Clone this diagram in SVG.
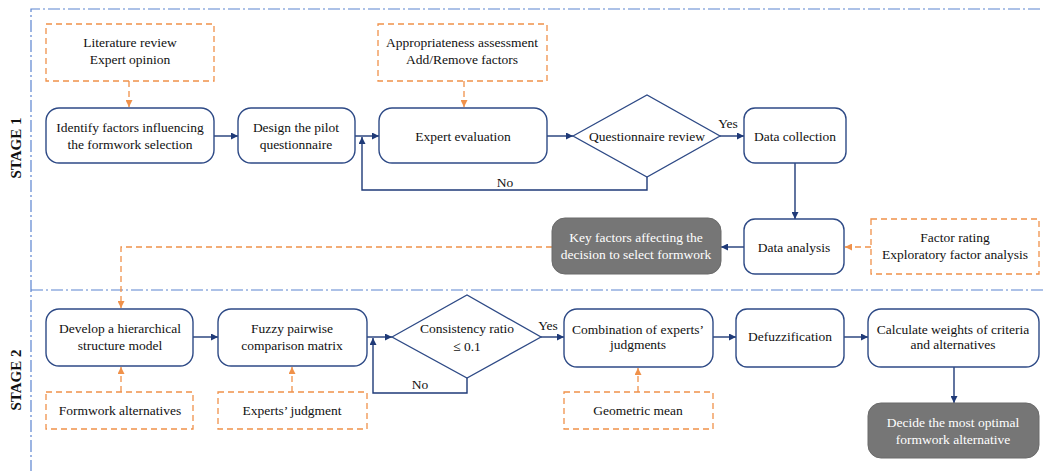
<svg xmlns="http://www.w3.org/2000/svg" width="1044" height="471" viewBox="0 0 1044 471">
<defs>
<marker id="an" viewBox="0 0 10 10" refX="10" refY="5" markerWidth="7" markerHeight="7" markerUnits="userSpaceOnUse" orient="auto"><path d="M0,0 L10,5 L0,10 z" fill="#1f3a78"/></marker>
<marker id="ao" viewBox="0 0 10 10" refX="10" refY="5" markerWidth="7" markerHeight="7" markerUnits="userSpaceOnUse" orient="auto"><path d="M0,0 L10,5 L0,10 z" fill="#f0914a"/></marker>
</defs>
<style>
text{font-family:"Liberation Serif","Times New Roman",serif;font-size:13.5px;fill:#111;text-anchor:middle}
.box{fill:#fff;stroke:#2e4a86;stroke-width:1.4}
.gray{fill:#767676;stroke:#6a6a6a;stroke-width:1}
text.w{fill:#fff}
.dash{fill:#fff;stroke:#f0914a;stroke-width:1.3;stroke-dasharray:6 4}
.dia{fill:#fff;stroke:#2e4a86;stroke-width:1.3}
.c{fill:none;stroke:#1f3a78;stroke-width:1.4}
.co{fill:none;stroke:#f0914a;stroke-width:1.3;stroke-dasharray:6 4}
.frame{fill:none;stroke:#5b84d0;stroke-width:1.2;stroke-dasharray:12 3 2 3}
.stage{font-weight:bold;font-size:15px}
</style>
<g id="frame">
<path class="frame" d="M1040,9 H31 V471"/>
<path class="frame" d="M31,290 H1044"/>
<text class="stage" transform="translate(21,148) rotate(-90)">STAGE 1</text>
<text class="stage" transform="translate(21,380) rotate(-90)">STAGE 2</text>
</g>
<g id="connectors">
<path class="co" d="M129,81 V107" marker-end="url(#ao)"/>
<path class="co" d="M464,81 V107" marker-end="url(#ao)"/>
<path class="co" d="M871,247 H845" marker-end="url(#ao)"/>
<path class="co" d="M552,247 H121 V308" marker-end="url(#ao)"/>
<path class="co" d="M121,392 V367" marker-end="url(#ao)"/>
<path class="co" d="M292,392 V367" marker-end="url(#ao)"/>
<path class="co" d="M638,392 V368" marker-end="url(#ao)"/>
<path class="c" d="M214,136 H238" marker-end="url(#an)"/>
<path class="c" d="M355,136 H379" marker-end="url(#an)"/>
<path class="c" d="M547,136 H573" marker-end="url(#an)"/>
<path class="c" d="M720,136 H744" marker-end="url(#an)"/>
<path class="c" d="M647,177 V190 H362 V137" marker-end="url(#an)"/>
<path class="c" d="M795,163 V219" marker-end="url(#an)"/>
<path class="c" d="M744,247 H721" marker-end="url(#an)"/>
<path class="c" d="M193,337 H218" marker-end="url(#an)"/>
<path class="c" d="M367,337 H392" marker-end="url(#an)"/>
<path class="c" d="M467,378 V393 H373 V338" marker-end="url(#an)"/>
<path class="c" d="M541,337 H564" marker-end="url(#an)"/>
<path class="c" d="M713,337 H736" marker-end="url(#an)"/>
<path class="c" d="M844,337 H868" marker-end="url(#an)"/>
<path class="c" d="M954,367 V403" marker-end="url(#an)"/>
<text x="728" y="128">Yes</text>
<text x="505" y="187">No</text>
<text x="548" y="330">Yes</text>
<text x="420" y="389">No</text>
</g>
<g id="lit"><rect class="dash" x="46" y="24" width="168" height="57"/><text x="130" y="47">Literature review</text><text x="130" y="64">Expert opinion</text></g>
<g id="identify"><rect class="box" x="46" y="108" width="168" height="55" rx="13"/><text x="130" y="132">Identify factors influencing</text><text x="130" y="149">the formwork selection</text></g>
<g id="design"><rect class="box" x="238" y="108" width="117" height="55" rx="13"/><text x="296" y="132">Design the pilot</text><text x="296" y="149">questionnaire</text></g>
<g id="approp"><rect class="dash" x="378" y="24" width="169" height="57"/><text x="462" y="47">Appropriateness assessment</text><text x="462" y="64">Add/Remove factors</text></g>
<g id="expert"><rect class="box" x="379" y="108" width="168" height="55" rx="13"/><text x="463" y="141">Expert evaluation</text></g>
<g id="qreview"><polygon class="dia" points="573,136 647,95 720,136 647,177"/><text x="647" y="141">Questionnaire review</text></g>
<g id="collect"><rect class="box" x="744" y="108" width="102" height="55" rx="11"/><text x="795" y="141">Data collection</text></g>
<g id="analysis"><rect class="box" x="744" y="219" width="100" height="55" rx="11"/><text x="794" y="252">Data analysis</text></g>
<g id="rating"><rect class="dash" x="871" y="219" width="168" height="55"/><text x="955" y="242">Factor rating</text><text x="955" y="259">Exploratory factor analysis</text></g>
<g id="keyfactors"><rect class="gray" x="552" y="218" width="169" height="56" rx="13"/><text class="w" x="636" y="242">Key factors affecting the</text><text class="w" x="636" y="259">decision to select formwork</text></g>
<g id="develop"><rect class="box" x="46" y="309" width="147" height="57" rx="13"/><text x="120" y="333">Develop a hierarchical</text><text x="120" y="350">structure model</text></g>
<g id="fuzzy"><rect class="box" x="218" y="309" width="149" height="57" rx="13"/><text x="292" y="333">Fuzzy pairwise</text><text x="292" y="350">comparison matrix</text></g>
<g id="alts"><rect class="dash" x="46" y="392" width="147" height="37"/><text x="120" y="415">Formwork alternatives</text></g>
<g id="judg"><rect class="dash" x="218" y="392" width="149" height="37"/><text x="292" y="415">Experts’ judgment</text></g>
<g id="consist"><polygon class="dia" points="392,337 467,295 541,337 467,378"/><text x="467" y="333">Consistency ratio</text><text x="467" y="351">≤ 0.1</text></g>
<g id="combine"><rect class="box" x="564" y="309" width="149" height="58" rx="13"/><text x="638" y="334">Combination of experts’</text><text x="638" y="349">judgments</text></g>
<g id="geo"><rect class="dash" x="564" y="392" width="149" height="37"/><text x="638" y="415">Geometric mean</text></g>
<g id="defuzz"><rect class="box" x="736" y="309" width="108" height="58" rx="11"/><text x="790" y="341">Defuzzification</text></g>
<g id="weights"><rect class="box" x="868" y="309" width="171" height="58" rx="13"/><text x="953" y="334">Calculate weights of criteria</text><text x="953" y="349">and alternatives</text></g>
<g id="decide"><rect class="gray" x="868" y="403" width="171" height="55" rx="13"/><text class="w" x="953" y="427">Decide the most optimal</text><text class="w" x="953" y="444">formwork alternative</text></g>
</svg>
